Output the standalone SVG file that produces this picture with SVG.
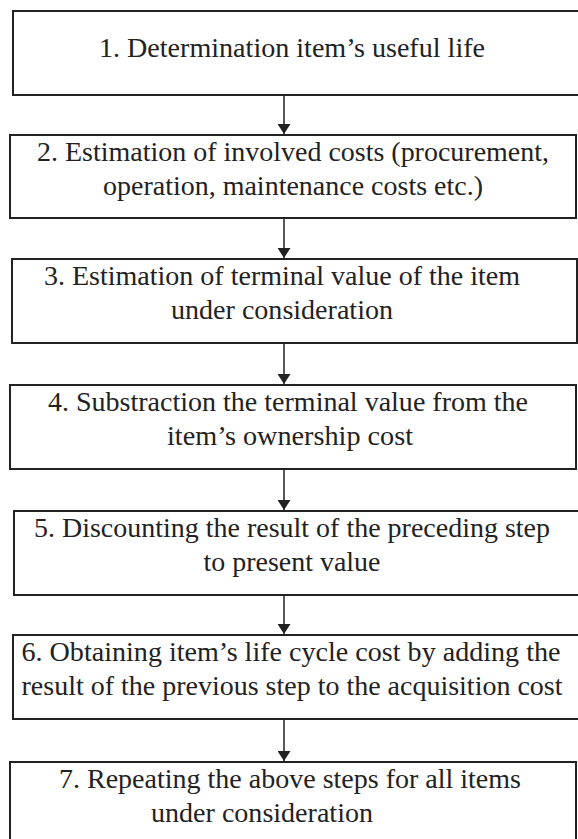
<svg xmlns="http://www.w3.org/2000/svg" width="578" height="839" viewBox="0 0 578 839">
<style>
.box{fill:#fff;stroke:#222;stroke-width:2}
.t{font-family:"Liberation Serif","Times New Roman",serif;font-size:28px;fill:#222;text-anchor:middle}
.c{stroke:#222;stroke-width:1.5;fill:none}
</style>
<defs>
<marker id="ah" viewBox="0 0 10 13" refX="10" refY="6.5" markerWidth="10" markerHeight="13" markerUnits="userSpaceOnUse" orient="auto">
<path d="M0,0 L10,6.5 L0,13 Z" fill="#222"/>
</marker>
</defs>
<rect width="578" height="839" fill="#fff"/>
<g id="connectors">
<line class="c" x1="284" y1="95" x2="284" y2="134" marker-end="url(#ah)"/>
<line class="c" x1="284" y1="218" x2="284" y2="258" marker-end="url(#ah)"/>
<line class="c" x1="284" y1="343" x2="284" y2="384" marker-end="url(#ah)"/>
<line class="c" x1="284" y1="469" x2="284" y2="510" marker-end="url(#ah)"/>
<line class="c" x1="284" y1="595" x2="284" y2="634" marker-end="url(#ah)"/>
<line class="c" x1="284" y1="719" x2="284" y2="761" marker-end="url(#ah)"/>
</g>
<g id="n1"><rect class="box" x="13" y="11" width="570" height="84"/>
<text class="t" x="292" y="57" textLength="386" lengthAdjust="spacingAndGlyphs">1. Determination item’s useful life</text></g>
<g id="n2"><rect class="box" x="10" y="135" width="566" height="83"/>
<text class="t" x="293" y="161" textLength="512" lengthAdjust="spacingAndGlyphs">2. Estimation of involved costs (procurement,</text>
<text class="t" x="293" y="195" textLength="380" lengthAdjust="spacingAndGlyphs">operation, maintenance costs etc.)</text></g>
<g id="n3"><rect class="box" x="12" y="259" width="565" height="84"/>
<text class="t" x="282" y="285" textLength="476" lengthAdjust="spacingAndGlyphs">3. Estimation of terminal value of the item</text>
<text class="t" x="282" y="319" textLength="222" lengthAdjust="spacingAndGlyphs">under consideration</text></g>
<g id="n4"><rect class="box" x="10" y="385" width="566" height="84"/>
<text class="t" x="288" y="411" textLength="480" lengthAdjust="spacingAndGlyphs">4. Substraction the terminal value from the</text>
<text class="t" x="290" y="445" textLength="246" lengthAdjust="spacingAndGlyphs">item’s ownership cost</text></g>
<g id="n5"><rect class="box" x="14" y="511" width="570" height="84"/>
<text class="t" x="292" y="537" textLength="516" lengthAdjust="spacingAndGlyphs">5. Discounting the result of the preceding step</text>
<text class="t" x="292" y="571" textLength="177" lengthAdjust="spacingAndGlyphs">to present value</text></g>
<g id="n6"><rect class="box" x="13" y="635" width="570" height="84"/>
<text class="t" x="291" y="661" textLength="539" lengthAdjust="spacingAndGlyphs">6. Obtaining item’s life cycle cost by adding the</text>
<text class="t" x="292" y="695" textLength="541" lengthAdjust="spacingAndGlyphs">result of the previous step to the acquisition cost</text></g>
<g id="n7"><rect class="box" x="10" y="762" width="566" height="90"/>
<text class="t" x="290" y="788" textLength="462" lengthAdjust="spacingAndGlyphs">7. Repeating the above steps for all items</text>
<text class="t" x="262" y="822" textLength="222" lengthAdjust="spacingAndGlyphs">under consideration</text></g>
</svg>
